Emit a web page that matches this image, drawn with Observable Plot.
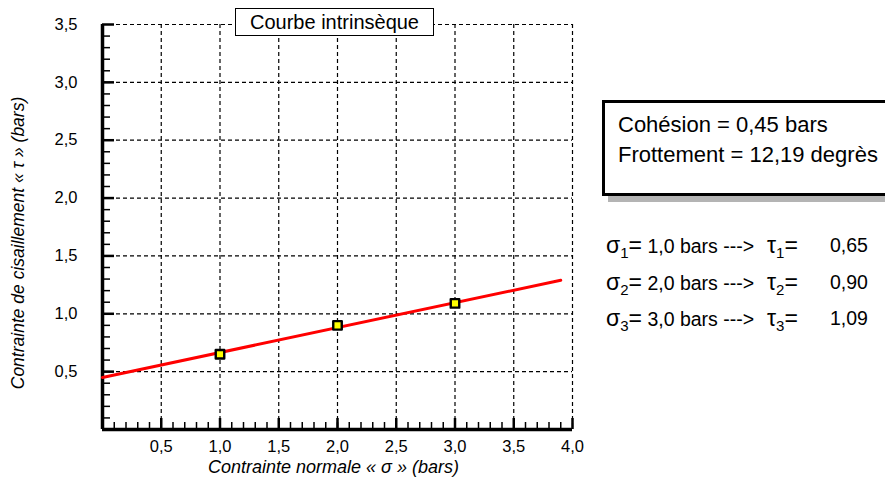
<!DOCTYPE html>
<html>
<head>
<meta charset="utf-8">
<script src="https://cdn.jsdelivr.net/npm/d3@7"></script>
<script src="https://cdn.jsdelivr.net/npm/@observablehq/plot@0.6"></script>
<style>
  html, body { margin: 0; padding: 0; background: #fff; }
  #wrap { position: relative; width: 885px; height: 479px; overflow: hidden; font-family: "Liberation Sans", Arial, sans-serif; color: #000; }
  #wrap svg { position: absolute; left: 0; top: 0; }
  .title { position: absolute; left: 235px; top: 8px; width: 197px; height: 26px; border: 1px solid #000; background: #fff; font-size: 20px; line-height: 26px; text-align: center; }
  .info { position: absolute; left: 602px; top: 100px; width: 300px; height: 90px; border: 3px solid #000; background: #fff; box-shadow: 6px 6px 0 #b4b4b4; }
  .info div { position: absolute; left: 13px; font-size: 22px; line-height: 26px; white-space: nowrap; }
  .row { position: absolute; height: 30px; font-size: 19.5px; line-height: 30px; white-space: nowrap; }
  .sym { font-size: 23px; }
  .sub { font-size: 15px; position: relative; top: 5px; }
</style>
</head>
<body>
<div id="wrap"></div>
<script>
// ---- data ----
const sigma = [1.0, 2.0, 3.0];            // normal stress (bars)
const tau = [0.65, 0.90, 1.09];           // shear stress (bars)
const lineSigma = [0, 3.9];               // intrinsic curve endpoints (x)
const lineTau = [0.45, 1.29];             // intrinsic curve endpoints (y)
const xTicks = [0.5, 1.0, 1.5, 2.0, 2.5, 3.0, 3.5, 4.0];
const yTicks = [0.5, 1.0, 1.5, 2.0, 2.5, 3.0, 3.5];
const xMinor = d3.range(1, 40).map(i => i / 10);
const yMinor = d3.range(1, 35).map(i => i / 10);
const titleText = "Courbe intrinsèque";
const xLabel = "Contrainte normale « σ » (bars)";
const yLabel = "Contrainte de cisaillement « τ » (bars)";
const cohesionText = "Cohésion = 0,45 bars";
const frictionText = "Frottement = 12,19 degrès";
const sigmaLabels = ["1,0", "2,0", "3,0"];
const tauLabels = ["0,65", "0,90", "1,09"];

const fmt = d => d.toFixed(1).replace(".", ",");
const pts = sigma.map((s, i) => ({s, t: tau[i]}));
const curve = lineSigma.map((s, i) => ({s, t: lineTau[i]}));

const chart = Plot.plot({
  width: 885,
  height: 479,
  marginLeft: 102,
  marginRight: 313,
  marginTop: 24,
  marginBottom: 50,
  style: {fontFamily: '"Liberation Sans", Arial, sans-serif', background: "transparent", color: "#000"},
  x: {domain: [0, 4]},
  y: {domain: [0, 3.5]},
  marks: [
    Plot.gridX(xTicks, {stroke: "#000", strokeOpacity: 1, strokeWidth: 1.2, strokeDasharray: "4,3"}),
    Plot.gridY(yTicks, {stroke: "#000", strokeOpacity: 1, strokeWidth: 1.2, strokeDasharray: "4,3"}),
    // tick labels
    Plot.axisX(xTicks, {tickSize: 0, tickPadding: 11, tickFormat: fmt, fontSize: 16.5, label: null}),
    Plot.axisY(yTicks, {tickSize: 0, tickPadding: 25, tickFormat: fmt, fontSize: 16.5, label: null}),
    // inward tick marks
    Plot.axisX(xMinor, {tickSize: 7, dy: -7, text: null, label: null, strokeWidth: 1.5}),
    Plot.axisX(xTicks, {tickSize: 11, dy: -11, text: null, label: null, strokeWidth: 2.5}),
    Plot.axisY(yMinor, {tickSize: 8, dx: 8, text: null, label: null, strokeWidth: 1.5}),
    Plot.axisY(yTicks, {tickSize: 12, dx: 12, text: null, label: null, strokeWidth: 2.5}),
    // axis lines
    Plot.ruleX([0], {strokeWidth: 3.5}),
    Plot.ruleY([0], {strokeWidth: 3.5}),
    // axis titles
    Plot.text([xLabel], {text: d => d, frameAnchor: "bottom", textAnchor: "middle", lineAnchor: "middle", dx: -4, dy: 38, fontSize: 18, fontStyle: "italic"}),
    Plot.text([yLabel], {text: d => d, frameAnchor: "left", textAnchor: "middle", lineAnchor: "middle", dx: -84, dy: 16, rotate: -90, fontSize: 17.5, fontStyle: "italic"}),
    // intrinsic curve
    Plot.line(curve, {x: "s", y: "t", stroke: "#ff0000", strokeWidth: 3}),
    Plot.dot(pts, {x: "s", y: "t", symbol: "square", r: 4.8, fill: "#ffff00", stroke: "#000", strokeWidth: 2.4, strokeLinejoin: "round"})
  ]
});

const wrap = document.getElementById("wrap");
wrap.appendChild(chart);

const title = document.createElement("div");
title.className = "title";
title.textContent = titleText;
wrap.appendChild(title);

const info = document.createElement("div");
info.className = "info";
info.innerHTML = `<div style="top:9px">${cohesionText}</div><div style="top:39px">${frictionText}</div>`;
wrap.appendChild(info);

const rowTops = [230, 267, 303];
sigma.forEach((s, i) => {
  const n = i + 1;
  const a = document.createElement("div");
  a.className = "row";
  a.style.left = "606px"; a.style.top = rowTops[i] + "px";
  a.innerHTML = `<span class="sym">σ</span><span class="sub">${n}</span><span class="sym">=</span> ${sigmaLabels[i]} bars&nbsp;---&gt;`;
  wrap.appendChild(a);
  const b = document.createElement("div");
  b.className = "row";
  b.style.left = "767px"; b.style.top = rowTops[i] + "px";
  b.innerHTML = `<span class="sym">τ</span><span class="sub">${n}</span><span class="sym">=</span>`;
  wrap.appendChild(b);
  const c = document.createElement("div");
  c.className = "row";
  c.style.left = "830px"; c.style.top = rowTops[i] + "px";
  c.textContent = tauLabels[i];
  wrap.appendChild(c);
});
</script>
</body>
</html>
